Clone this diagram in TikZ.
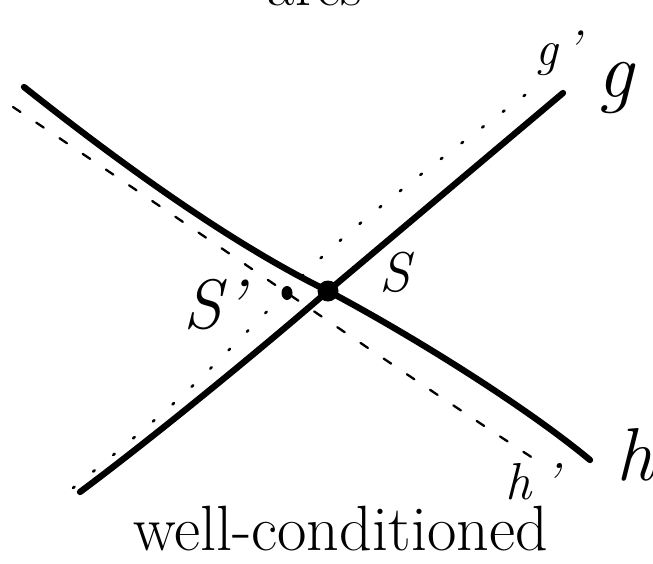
\documentclass[tikz,border=0pt]{standalone}
\begin{document}
\begin{tikzpicture}[x=1pt,y=-1pt,
  thickline/.style={line width=6.3pt,line cap=round,line join=round},
  dashline/.style={line width=2.3pt,line cap=round,dash pattern=on 9pt off 19pt},
  dotline/.style={line width=2.6pt,line cap=round,dash pattern=on 2pt off 24pt},
  lbl/.style={inner sep=0pt,anchor=base}]
\useasboundingbox (0,0) rectangle (653,564);
\clip (0,0) rectangle (653,564);
% key points
\coordinate (S) at (328,291);
\coordinate (Sp) at (287,293);
\coordinate (hA) at (24,87);
\coordinate (hB) at (590,460);
\coordinate (gA) at (80,492);
\coordinate (gB) at (563,93);
\coordinate (hpA) at (13,107);
\coordinate (hpB) at (545,466);
% dashed h'
\draw[dashline] (hpA) .. controls (200,232) and (360,345) .. (hpB);
% dotted g'
\draw[dotline] plot[smooth] coordinates {(73,488) (184,394) (323,256) (419,176) (541,83)};
% line h
\draw[thickline] (hA) .. controls (120,163) and (230,243) .. (S) .. controls (420,340) and (530,410) .. (hB);
% line g
\draw[thickline] (gA) .. controls (150,440) and (260,350) .. (S) -- (gB);
% points
\fill (S) circle (10.5);
\fill (Sp) ellipse (5.5 and 7);
% labels
\node[lbl] (tTop) at (315,6) {\fontsize{60}{64}\selectfont arcs};
\node[lbl] (tg) at (615,98) {\fontsize{80}{84}\selectfont\itshape g};
\node[lbl] (tgp) at (558,66) {\fontsize{50}{54}\selectfont\itshape g\hspace{8pt}'};
\node[lbl] (th) at (635,480) {\fontsize{75}{80}\selectfont\itshape h};
\node[lbl] (thp) at (532,499) {\fontsize{52}{56}\selectfont\itshape h\hspace{12pt}'};
\node[lbl] (tS) at (395,291) {\fontsize{56}{60}\selectfont\itshape S};
\node[lbl] (tSp) at (214,328) {\fontsize{70}{74}\selectfont\itshape S\hspace{2pt}'};
\node[lbl,anchor=base west] (tw) at (133,550) {\fontsize{64}{70}\selectfont well-conditioned};
\end{tikzpicture}
\end{document}
